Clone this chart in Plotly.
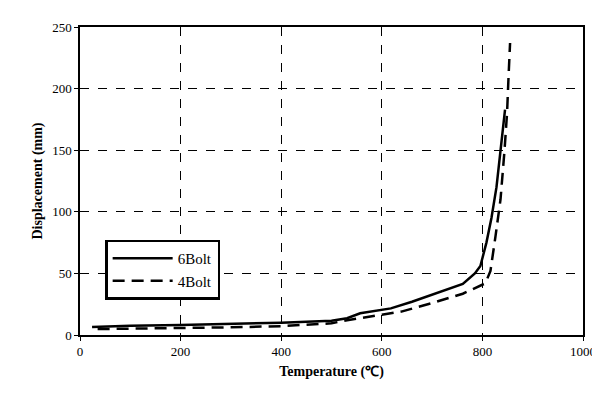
import plotly.graph_objects as go

# 6Bolt curve
t6 = [24, 100, 200, 300, 400, 500, 531, 557, 618, 660, 720, 761, 785, 796, 808, 818, 828, 836, 841, 845]
d6 = [6.4, 7.5, 8.2, 9.0, 10.0, 11.5, 13.6, 17.6, 21.6, 27, 36, 41.5, 50, 56, 75, 95, 120, 150, 170, 183]
# 4Bolt curve
t4 = [35, 100, 200, 300, 400, 500, 531, 580, 639, 700, 761, 806, 816, 826, 836, 844, 849, 852, 855]
d4 = [4.8, 5.0, 5.5, 6.2, 7.2, 9.5, 12, 15, 19, 26, 33.5, 42, 52, 80, 110, 150, 180, 210, 237]

fig = go.Figure()
fig.add_trace(go.Scatter(x=t6, y=d6, name='6Bolt', mode='lines',
                         line=dict(color='black', width=2.5)))
fig.add_trace(go.Scatter(x=t4, y=d4, name='4Bolt', mode='lines',
                         line=dict(color='black', width=2.5, dash='12px,7px')))

ax = dict(showline=True, linecolor='black', linewidth=1.5, mirror=True,
          showgrid=True, gridcolor='black', griddash='dash', gridwidth=1,
          ticks='outside', tickcolor='black', ticklen=4, zeroline=False,
          tickfont=dict(family='Liberation Serif', size=13, color='black'))
fig.update_xaxes(ax, range=[0, 1000], dtick=200,
                 title=dict(text='Temperature (℃)', standoff=8,
                            font=dict(family='Liberation Serif', size=14, color='black', weight='bold')))
fig.update_yaxes(ax, range=[0, 250], dtick=50,
                 title=dict(text='Displacement (mm)', standoff=6,
                            font=dict(family='Liberation Serif', size=14, color='black', weight='bold')))
fig.update_layout(width=600, height=406, margin=dict(l=72, r=23, t=14, b=79),
                  plot_bgcolor='white', paper_bgcolor='white',
                  legend=dict(x=0.05, y=0.31, xanchor='left', yanchor='top',
                              bordercolor='black', borderwidth=2.5, bgcolor='white',
                              font=dict(family='Liberation Serif', size=15, color='black'),
                              itemwidth=60, tracegroupgap=10))
fig.write_html("out.html")
